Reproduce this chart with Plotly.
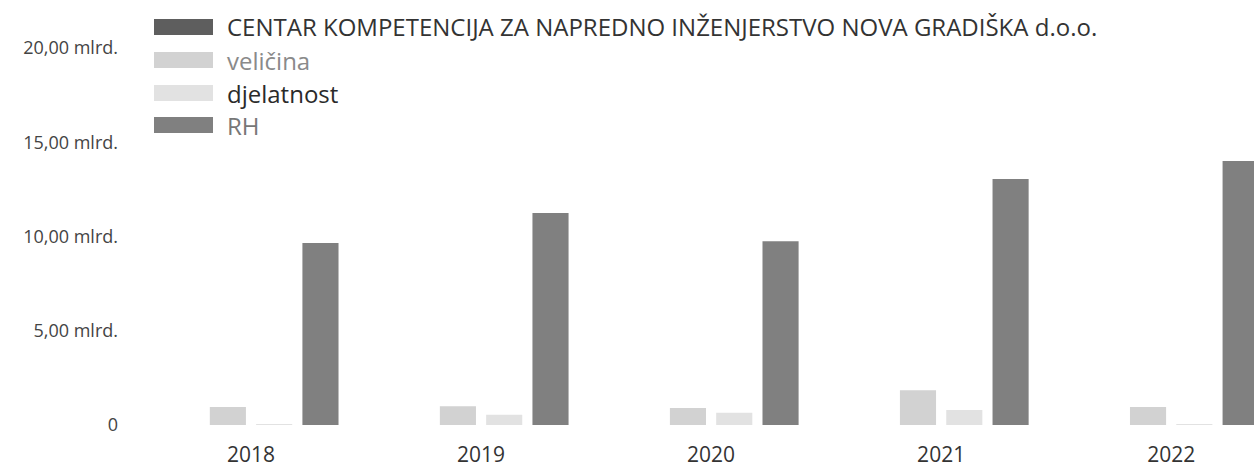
import plotly.graph_objects as go

years = ["2018", "2019", "2020", "2021", "2022"]
series_names = [
    "CENTAR KOMPETENCIJA ZA NAPREDNO INŽENJERSTVO NOVA GRADIŠKA d.o.o.",
    "veličina",
    "djelatnost",
    "RH",
]
# values in billions (mlrd.)
centar = [0.0, 0.0, 0.0, 0.0, 0.0]
velicina = [0.95, 1.0, 0.9, 1.85, 0.95]
djelatnost = [0.05, 0.55, 0.65, 0.8, 0.05]
rh = [9.65, 11.25, 9.75, 13.05, 14.0]
series_values = [centar, velicina, djelatnost, rh]
colors = ["#5e5e5e", "#d2d2d2", "#e2e2e2", "#808080"]
legend_text_colors = ["#333333", "#8a8a8a", "#2a2a2a", "#777777"]

y_tickvals = [0, 5, 10, 15, 20]
y_ticktext = ["0", "5,00 mlrd.", "10,00 mlrd.", "15,00 mlrd.", "20,00 mlrd."]

W, H = 1254, 469
ML, MR, MT, MB = 136, 0, 48, 44
PW, PH = W - ML - MR, H - MT - MB

fig = go.Figure()
for name, vals, col in zip(series_names, series_values, colors):
    fig.add_trace(go.Bar(x=years, y=vals, name=name, marker_color=col,
                         marker_line_width=0, showlegend=False))

FONT = "Open Sans"
# custom legend with wide swatches
leg_y = [27, 60, 93, 125]
for name, col, tcol, py in zip(series_names, colors, legend_text_colors, leg_y):
    fig.add_shape(type="rect", xref="paper", yref="paper",
                  x0=(154 - ML) / PW, x1=(213 - ML) / PW,
                  y0=(H - MB - (py + 8)) / PH, y1=(H - MB - (py - 8)) / PH,
                  fillcolor=col, line_width=0)
    fig.add_annotation(xref="paper", yref="paper", x=(225 - ML) / PW,
                       y=(H - MB - py) / PH, text=name, showarrow=False,
                       xanchor="left", yanchor="middle",
                       font=dict(family=FONT, size=24, color=tcol))

fig.update_layout(
    width=W, height=H,
    margin=dict(l=ML, r=MR, t=MT, b=MB, pad=0),
    paper_bgcolor="white", plot_bgcolor="white",
    barmode="group", bargap=0.195, bargroupgap=0.22,
    font=dict(family=FONT, size=18, color="#333333"),
    xaxis=dict(type="category", range=[-0.5, 4.36], showgrid=False,
               showline=False, zeroline=False, ticks="",
               ticklabelstandoff=15, tickfont=dict(size=21, color="#333333")),
    yaxis=dict(range=[0, 20], tickvals=y_tickvals, ticktext=y_ticktext,
               showgrid=False, showline=False, zeroline=False, ticks="",
               ticklabelstandoff=17, tickfont=dict(size=18, color="#444444")),
)

fig.write_html("out.html", config={"displayModeBar": False},
               post_script="document.body.style.margin='0';document.body.style.overflow='hidden';")
